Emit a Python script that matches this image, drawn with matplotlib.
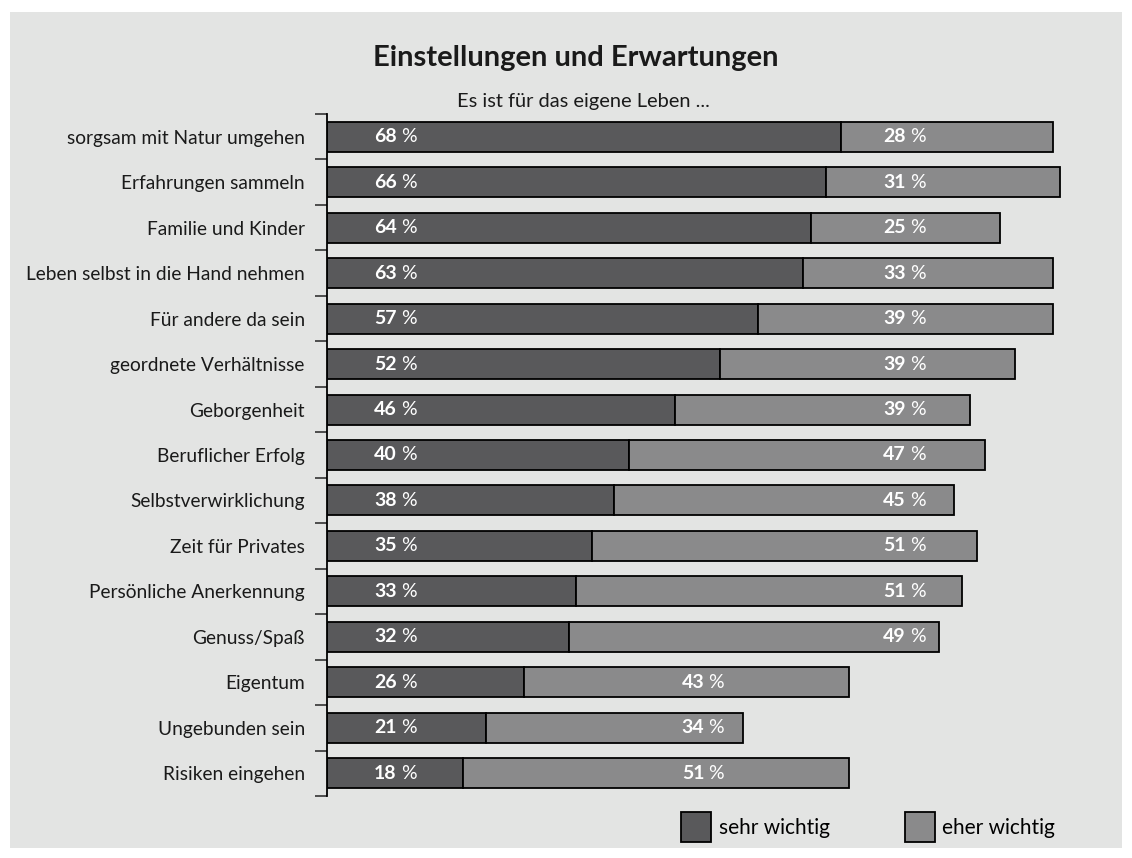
import matplotlib.pyplot as plt
from matplotlib.patches import Rectangle

plt.rcParams['font.family'] = ['Lato', 'DejaVu Sans']

# Daten
categories = ['sorgsam mit Natur umgehen', 'Erfahrungen sammeln', 'Familie und Kinder',
              'Leben selbst in die Hand nehmen', 'Für andere da sein', 'geordnete Verhältnisse',
              'Geborgenheit', 'Beruflicher Erfolg', 'Selbstverwirklichung', 'Zeit für Privates',
              'Persönliche Anerkennung', 'Genuss/Spaß', 'Eigentum', 'Ungebunden sein',
              'Risiken eingehen']
sehr_wichtig = [68, 66, 64, 63, 57, 52, 46, 40, 38, 35, 33, 32, 26, 21, 18]
eher_wichtig = [28, 31, 25, 33, 39, 39, 39, 47, 45, 51, 51, 49, 43, 34, 51]
series_names = ['sehr wichtig', 'eher wichtig']

dark = '#59595b'
light = '#8a8a8b'
bg = '#e3e4e3'

fig = plt.figure(figsize=(11.32, 8.58), dpi=100)
fig.patch.set_facecolor('white')
fig.patches.append(Rectangle((10 / 1132, 10 / 858), 1112 / 1132, 836 / 858,
                             transform=fig.transFigure, facecolor=bg, edgecolor='none',
                             zorder=-10))

ax = fig.add_axes([327 / 1132, 1 - 796 / 858, 756 / 1132, 682 / 858])
ax.set_facecolor('none')

y = list(range(len(categories)))
b1 = ax.barh(y, sehr_wichtig, height=0.66, color=dark, edgecolor='black', linewidth=1.3,
             label=series_names[0])
b2 = ax.barh(y, eher_wichtig, left=sehr_wichtig, height=0.66, color=light, edgecolor='black',
             linewidth=1.3, label=series_names[1])


def wert(x, i, v):
    # Zahl fett, Prozentzeichen normal
    ax.annotate(str(v), (x, i), xytext=(-1.5, 0), textcoords='offset points', color='white',
                fontsize=14, fontweight='bold', ha='right', va='center')
    ax.annotate('%', (x, i), xytext=(1.5, 0), textcoords='offset points', color='white',
                fontsize=14, ha='left', va='center')


for i in y:
    wert(9.5, i, sehr_wichtig[i])
    total = sehr_wichtig[i] + eher_wichtig[i]
    wert(76.8 if total > 80 else 50.2, i, eher_wichtig[i])

ax.set_xlim(0, 100)
ax.set_ylim(len(categories) - 0.5, -0.5)
ax.set_yticks(y)
ax.set_yticklabels(categories, fontsize=13.8, color='#1a1a1a')
ax.tick_params(axis='y', which='major', length=0, pad=16)
ax.set_yticks([i - 0.5 for i in range(len(categories) + 1)], minor=True)
ax.tick_params(axis='y', which='minor', length=9, width=1.2, direction='out', color='#333333')
ax.set_xticks([])
for s in ['top', 'right', 'bottom']:
    ax.spines[s].set_visible(False)
ax.spines['left'].set_linewidth(1.3)

fig.text(576 / 1132, 1 - 58 / 858, 'Einstellungen und Erwartungen', fontsize=21,
         fontweight='bold', ha='center', va='center', color='#1a1a1a')
fig.text(583 / 1132, 1 - 102 / 858, 'Es ist für das eigene Leben ...', fontsize=14.4,
         ha='center', va='center', color='#1a1a1a')

fig.legend(handles=[b1, b2], labels=series_names, loc='center',
           bbox_to_anchor=(868 / 1132, 1 - 827 / 858), ncol=2, frameon=False,
           fontsize=15, handlelength=1.44, handleheight=1.9, columnspacing=3.6,
           handletextpad=0.38)

plt.savefig('out.png', dpi=100, facecolor='white')
